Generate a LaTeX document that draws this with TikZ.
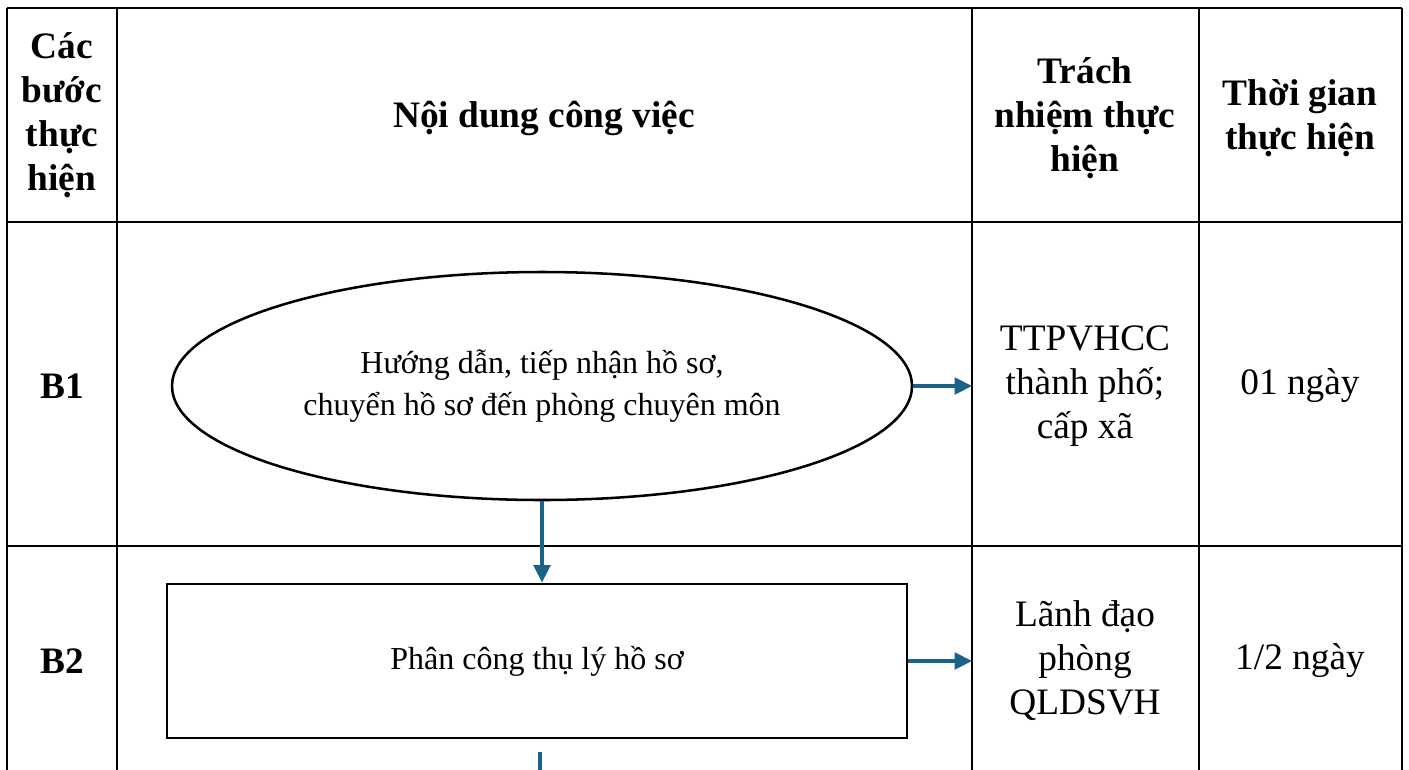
\documentclass[tikz,border=0pt]{standalone}
\usepackage{fontspec}
\setmainfont{Liberation Serif}
\usetikzlibrary{arrows.meta,shapes.geometric}
\definecolor{flowblue}{RGB}{26,98,136}

\begin{document}
\begin{tikzpicture}[x=0.375pt,y=-0.375pt,
		rule/.style={line width=1.1pt},
		headtext/.style={align=center,font=\fontsize{14}{16.5}\selectfont\bfseries},
		celltext/.style={align=center,font=\fontsize{14}{16.5}\selectfont},
		boxtext/.style={draw,align=center,inner sep=0pt,font=\fontsize{12}{16}\selectfont},
		flowline/.style={draw=flowblue,line width=1.3pt,-{Triangle[length=6.5pt,width=6.2pt]}}]
			%%%%% START %%%%%
			
			\useasboundingbox (0,0) rectangle (1409,769);
			
			% table grid
			\coordinate (c1) at (7,8);
			\coordinate (c2) at (117,8);
			\coordinate (c3) at (972,8);
			\coordinate (c4) at (1199,8);
			\coordinate (c5) at (1402,8);
			\draw[rule] (c1) -- (c5);
			\draw[rule] (7,222) -- (1402,222);
			\draw[rule] (7,546) -- (1402,546);
			\foreach \c in {c1,c2,c3,c4,c5}
				\draw[rule] (\c) -- ++(0,780);
			
			% header row
			\node[headtext] (hstep) at (62,115) {Các\\bước\\thực\\hiện};
			\node[headtext] (hwork) at (544,118) {Nội dung công việc};
			\node[headtext] (hresp) at (1085,118) {Trách\\nhiệm thực\\hiện};
			\node[headtext] (htime) at (1300,118) {Thời gian\\thực hiện};
			
			% step B1
			\node[headtext] (b1) at (62,386) {B1};
			\node[boxtext,ellipse,line width=0.95pt,minimum width=277.5pt,minimum height=85.5pt] (receive) at (542,386)
				{Hướng dẫn, tiếp nhận hồ sơ,\\chuyển hồ sơ đến phòng chuyên môn};
			\node[celltext] (resp1) at (1085,386) {TTPVHCC\\thành phố;\\cấp xã};
			\node[celltext] (time1) at (1300,386) {01 ngày};
			
			% step B2
			\node[headtext] (b2) at (62,661) {B2};
			\node[boxtext,rectangle,line width=1.1pt,minimum width=277.5pt,minimum height=57.75pt] (assign) at (537,661)
				{Phân công thụ lý hồ sơ};
			\node[celltext] (resp2) at (1085,661) {Lãnh đạo\\phòng\\QLDSVH};
			\node[celltext] (time2) at (1300,661) {1/2 ngày};
			
			% connectors
			\draw[flowline] (receive.east) -- (receive.east -| c3);
			\draw[flowline] (assign.east) -- (assign.east -| c3);
			\draw[flowline] (receive.south) -- (receive.south |- assign.north);
			\coordinate (next) at (540,752);
			\draw[draw=flowblue,line width=1.3pt] (next) -- ++(0,30);
			
			%%%%% END %%%%%
		\end{tikzpicture}
\end{document}
